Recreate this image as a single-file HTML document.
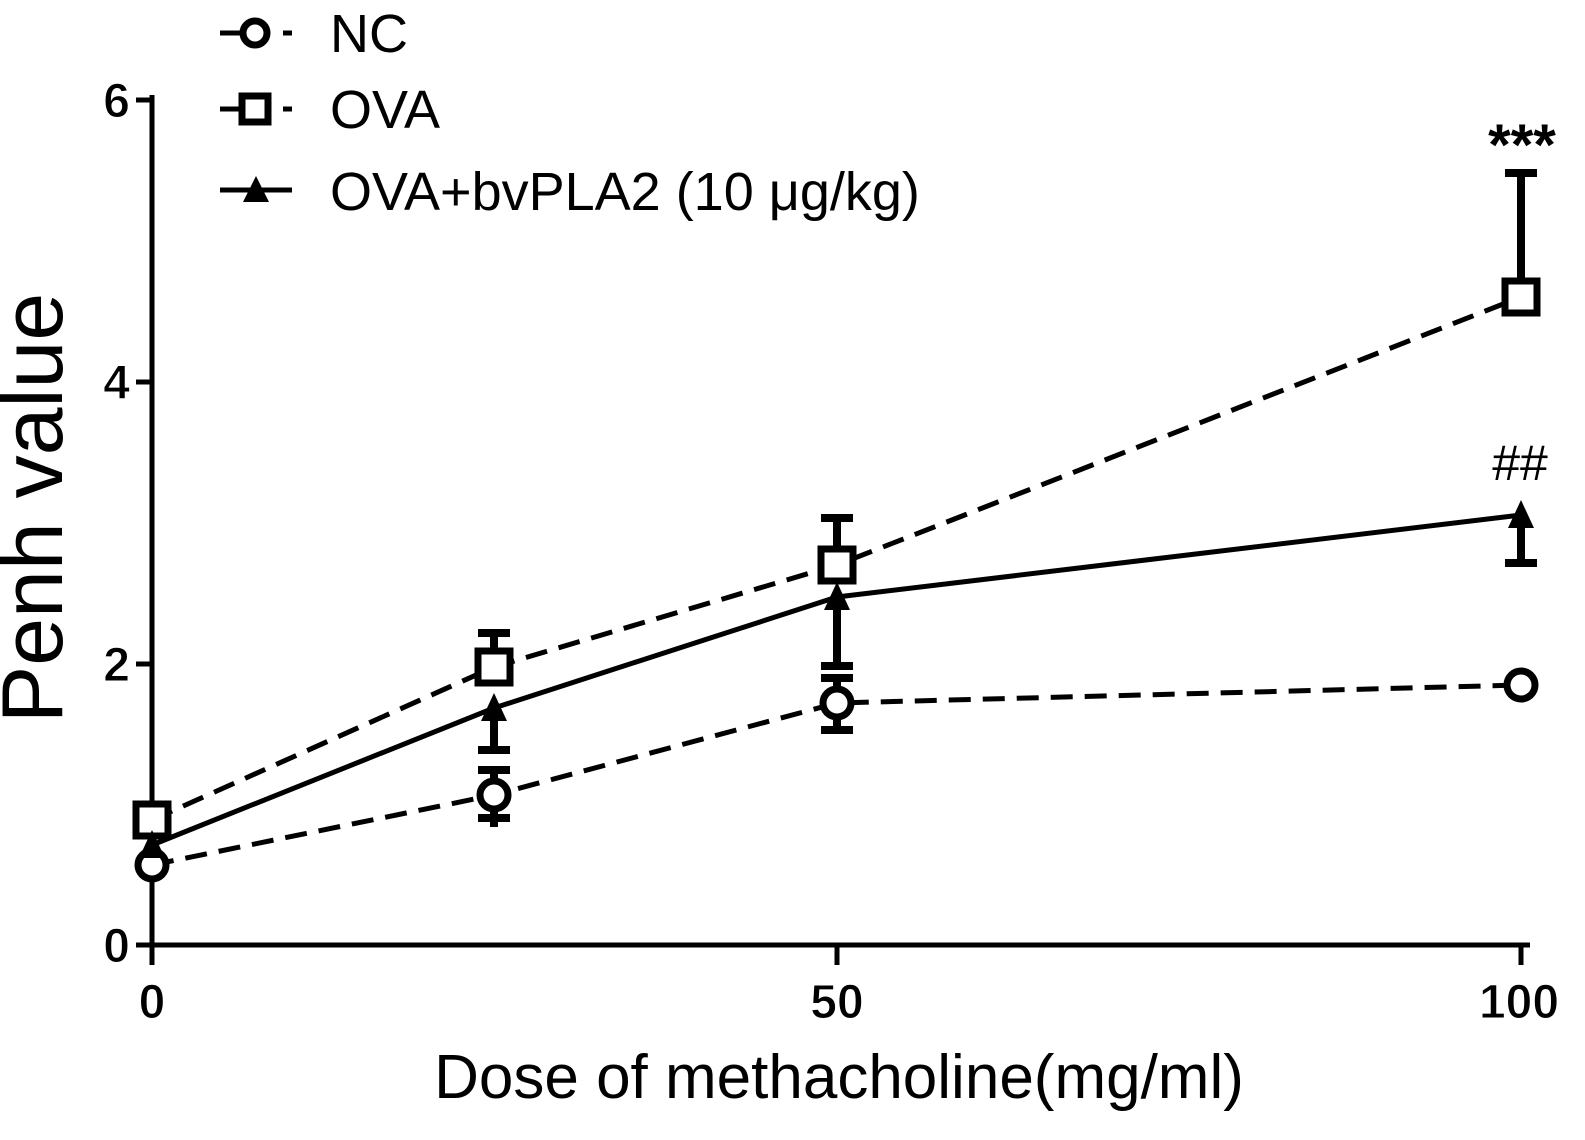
<!DOCTYPE html><html><head><style>body{margin:0;background:#fff}</style></head><body>
<svg width="1585" height="1135" xmlns="http://www.w3.org/2000/svg" font-family="Liberation Sans, Arial, sans-serif">
<rect width="1585" height="1135" fill="#fff"/>
<g stroke="#000" stroke-width="5" fill="none">
<line x1="152" y1="95" x2="152" y2="948"/>
<line x1="136" y1="945" x2="1530" y2="945"/>
<line x1="136" y1="100" x2="152" y2="100"/><line x1="136" y1="382" x2="152" y2="382"/><line x1="136" y1="664" x2="152" y2="664"/>
<line x1="152" y1="945" x2="152" y2="965"/><line x1="837" y1="945" x2="837" y2="965"/><line x1="1521" y1="945" x2="1521" y2="965"/>
</g>
<g font-size="48" font-weight="bold" text-anchor="end" stroke="#fff" stroke-width="1"><text x="130" y="117">6</text><text x="130" y="399">4</text><text x="130" y="681">2</text><text x="130" y="962">0</text></g>
<g font-size="48" font-weight="bold" text-anchor="middle" stroke="#fff" stroke-width="1"><text x="152" y="1018">0</text><text x="837" y="1018">50</text><text x="1519" y="1018">100</text></g>
<text x="839" y="1098" font-size="62" text-anchor="middle">Dose of methacholine(mg/ml)</text>
<text transform="translate(62,508) rotate(-90)" font-size="86" text-anchor="middle">Penh value</text>
<g stroke="#000" stroke-width="8" fill="none">
<line x1="494" y1="770" x2="494" y2="827"/><line x1="478" y1="770" x2="510" y2="770"/><line x1="478" y1="818" x2="510" y2="818"/>
<line x1="837" y1="678" x2="837" y2="732"/><line x1="821" y1="678" x2="853" y2="678"/><line x1="821" y1="730" x2="853" y2="730"/>
<line x1="494" y1="633" x2="494" y2="667"/><line x1="478" y1="633" x2="510" y2="633"/>
<line x1="837" y1="518" x2="837" y2="565"/><line x1="821" y1="518" x2="853" y2="518"/>
<line x1="1521" y1="173" x2="1521" y2="297"/><line x1="1505" y1="173" x2="1537" y2="173"/>
<line x1="494" y1="708" x2="494" y2="752"/><line x1="478" y1="750" x2="510" y2="750"/>
<line x1="837" y1="597" x2="837" y2="668"/><line x1="821" y1="666" x2="853" y2="666"/>
<line x1="1521" y1="515" x2="1521" y2="563"/><line x1="1505" y1="563" x2="1537" y2="563"/>
</g>
<g stroke="#000" stroke-width="5" fill="none">
<polyline points="152,865 494,795 837,703 1521,685" stroke-dasharray="22,12"/>
<polyline points="152,820 494,667 837,565 1521,297" stroke-dasharray="22,12"/>
<polyline points="152,845 494,708 837,597 1521,515"/>
</g>
<g stroke="#000" stroke-width="7" fill="#fff">
<circle cx="152" cy="865" r="14"/><circle cx="494" cy="795" r="14"/><circle cx="837" cy="703" r="14"/><circle cx="1521" cy="685" r="14"/>
<rect x="136" y="804" width="32" height="32"/><rect x="478" y="651" width="32" height="32"/><rect x="821" y="549" width="32" height="32"/><rect x="1505" y="281" width="32" height="32"/>
</g>
<g fill="#000">
<polygon points="152,830 139,858 165,858"/><polygon points="494,693 481,721 507,721"/><polygon points="837,582 824,610 850,610"/><polygon points="1521,500 1508,528 1534,528"/>
</g>
<text x="1522" y="165" font-size="58" font-weight="bold" text-anchor="middle">***</text>
<text x="1520" y="480" font-size="50" text-anchor="middle">##</text>
<g stroke="#000" stroke-width="5" fill="none">
<line x1="220" y1="33" x2="252" y2="33"/><line x1="283" y1="33" x2="292" y2="33"/>
<line x1="220" y1="109" x2="252" y2="109"/><line x1="283" y1="109" x2="292" y2="109"/>
<line x1="220" y1="190" x2="292" y2="190"/>
</g>
<circle cx="255" cy="33" r="12" stroke="#000" stroke-width="7" fill="#fff"/>
<rect x="242" y="96" width="26" height="26" stroke="#000" stroke-width="7" fill="#fff"/>
<polygon points="256,176 243,202 269,202" fill="#000"/>
<g font-size="54"><text x="330" y="52">NC</text><text x="330" y="128">OVA</text><text x="330" y="210">OVA+bvPLA2 (10 μg/kg)</text></g>
</svg>
</body></html>
